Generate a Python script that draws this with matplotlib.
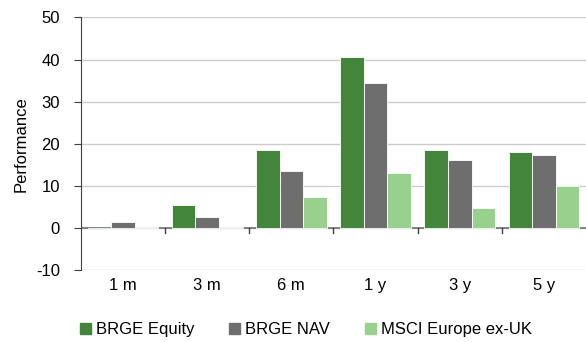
import matplotlib.pyplot as plt
import numpy as np
from matplotlib.patches import Patch

periods = ['1 m', '3 m', '6 m', '1 y', '3 y', '5 y']
equity = [-0.3, 5.4, 18.6, 40.5, 18.6, 17.9]
nav = [1.3, 2.5, 13.4, 34.3, 16.0, 17.2]
msci = [0.15, 0.15, 7.4, 13.1, 4.8, 10.0]

series_names = ['BRGE Equity', 'BRGE NAV', 'MSCI Europe ex-UK']
colors = ['#43853a', '#6e6e6e', '#98d18e']


def main():
    plt.rcParams['font.family'] = ['Liberation Sans', 'DejaVu Sans']
    plt.rcParams['font.size'] = 12
    plt.rcParams['axes.unicode_minus'] = False

    fig = plt.figure(figsize=(5.86, 3.42), dpi=100)
    ax = fig.add_axes([0.138, 0.211, 0.862, 0.738])

    x = np.arange(len(periods))
    w = 0.28
    for i, (vals, c) in enumerate(zip([equity, nav, msci], colors)):
        ax.bar(x + (i - 1) * w, vals, w, color=c, edgecolor='white',
               linewidth=0.6, zorder=3)

    ax.set_xlim(-0.5, len(periods) - 0.5)
    ax.set_ylim(-10, 50)
    ax.set_yticks(range(-10, 51, 10))
    ax.yaxis.grid(True, color='#cccccc', linewidth=1, zorder=0)
    ax.set_axisbelow(True)

    # zero line acts as the category axis, ticks sit between groups
    ax.axhline(0, color='#707070', linewidth=1.2, zorder=2.5)
    ax.set_xticks(x)
    ax.set_xticklabels(periods)
    ax.tick_params(axis='x', length=0, pad=6)
    for b in x[:-1] + 0.5:
        ax.plot([b, b], [0, -1.3], color='#404040', linewidth=1, zorder=4,
                clip_on=False)

    for s in ['top', 'right', 'bottom']:
        ax.spines[s].set_visible(False)
    ax.spines['left'].set_color('#404040')
    ax.tick_params(axis='y', length=5, color='#404040', pad=10)

    ax.set_ylabel('Performance', labelpad=5)

    handles = [Patch(color=c) for c in colors]
    fig.legend(handles, series_names, loc='center',
               bbox_to_anchor=(0.522, 0.036), ncol=3, frameon=False,
               handlelength=0.65, handleheight=0.65, handletextpad=0.3,
               columnspacing=2.1, borderpad=0, borderaxespad=0)

    fig.savefig('out.png', dpi=100)


if __name__ == '__main__':
    main()
